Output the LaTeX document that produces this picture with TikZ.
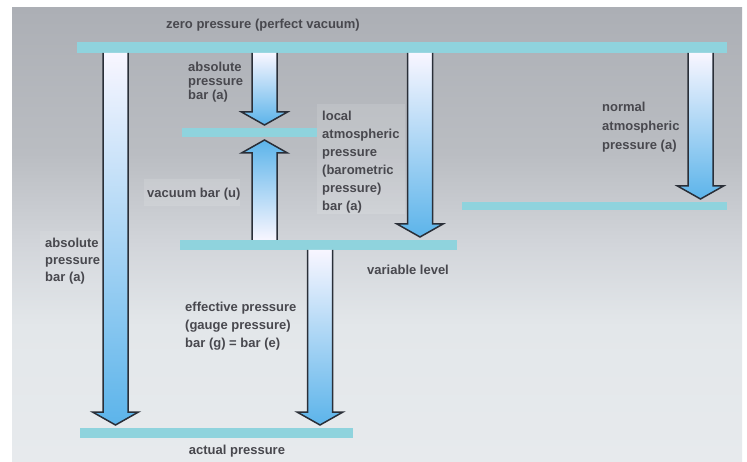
\documentclass[tikz,border=0pt]{standalone}
\usepackage{fontspec}
\setmainfont{Liberation Sans}
\usetikzlibrary{calc}
\definecolor{barc}{RGB}{143,211,221}
\definecolor{txt}{RGB}{72,72,78}
\definecolor{arrdark}{RGB}{42,47,56}
\definecolor{arrtop}{RGB}{248,246,255}
\definecolor{arrbot}{RGB}{92,180,234}
\definecolor{bga}{RGB}{231,234,237}
\definecolor{bgb}{RGB}{227,231,234}
\definecolor{bgc}{RGB}{210,213,218}
\definecolor{bgd}{RGB}{186,189,194}
\definecolor{bge}{RGB}{172,175,181}
\pgfdeclareverticalshading{bgshade}{100bp}{color(0bp)=(bga); color(25bp)=(bga); color(40bp)=(bgb); color(49bp)=(bgc); color(59bp)=(bgd); color(75bp)=(bge); color(100bp)=(bge)}
\tikzset{
  levelbar/.style={fill=barc, draw=none, inner sep=0pt, outer sep=0pt, minimum height=#1},
  levelbar/.default=10pt,
  arrline/.style={draw=arrdark, line width=1.5pt, line join=miter},
  lbl/.style={font=\bfseries\fontsize{13}{#1}\selectfont, text=txt, align=left, inner sep=0pt, anchor=base west},
  lbl/.default=17pt,
  lblbox/.style={fill=white, fill opacity=0.12, draw=none}
}
% down arrow: #1 x, from #2.south to #3.north
\newcommand\pdown[3]{%
  \path[shade, top color=arrtop, bottom color=arrbot]
    let \p1=(#2.south), \p2=(#3.north) in
    ({#1pt-12.5pt},{\y1}) -- ({#1pt-12.5pt},{\y2+16pt}) -- ({#1pt-23pt},{\y2+16pt}) -- ({#1pt},{\y2+3pt}) -- ({#1pt+23pt},{\y2+16pt}) -- ({#1pt+12.5pt},{\y2+16pt}) -- ({#1pt+12.5pt},{\y1}) -- cycle;
  \draw[arrline]
    let \p1=(#2.south), \p2=(#3.north) in
    ({#1pt-12.5pt},{\y1}) -- ({#1pt-12.5pt},{\y2+16pt}) -- ({#1pt-23pt},{\y2+16pt}) -- ({#1pt},{\y2+3pt}) -- ({#1pt+23pt},{\y2+16pt}) -- ({#1pt+12.5pt},{\y2+16pt}) -- ({#1pt+12.5pt},{\y1});
}
% up arrow: #1 x, from #2.north to #3.south
\newcommand\pup[3]{%
  \path[shade, top color=arrbot, bottom color=arrtop]
    let \p1=(#2.north), \p2=(#3.south) in
    ({#1pt-12.5pt},{\y1}) -- ({#1pt-12.5pt},{\y2-16pt}) -- ({#1pt-23pt},{\y2-16pt}) -- ({#1pt},{\y2-3pt}) -- ({#1pt+23pt},{\y2-16pt}) -- ({#1pt+12.5pt},{\y2-16pt}) -- ({#1pt+12.5pt},{\y1}) -- cycle;
  \draw[arrline]
    let \p1=(#2.north), \p2=(#3.south) in
    ({#1pt-12.5pt},{\y1}) -- ({#1pt-12.5pt},{\y2-16pt}) -- ({#1pt-23pt},{\y2-16pt}) -- ({#1pt},{\y2-3pt}) -- ({#1pt+23pt},{\y2-16pt}) -- ({#1pt+12.5pt},{\y2-16pt}) -- ({#1pt+12.5pt},{\y1});
}
\begin{document}
\begin{tikzpicture}[x=1pt,y=-1pt]
\useasboundingbox (0,0) rectangle (747,462);
\fill[white] (0,0) rectangle (747,462);
\shade[shading=bgshade] (12,8) rectangle (742,462);

% faint label backgrounds
\fill[lblbox] (317,104) rectangle (405,214);
\fill[lblbox] (144,179) rectangle (240,206);
\fill[lblbox, fill opacity=0.07] (40,231) rectangle (101,290);

% level bars
\node[levelbar=11pt, minimum width=650pt] (zero) at (402,47.5) {};
\node[levelbar=9pt, minimum width=135pt] (local) at (249.5,132.5) {};
\node[levelbar=10pt, minimum width=277pt] (var) at (318.5,245) {};
\node[levelbar=8pt, minimum width=265pt] (normal) at (594.5,206) {};
\node[levelbar=10pt, minimum width=273pt] (actual) at (216.5,433) {};

% arrows
\pdown{115.5}{zero}{actual}
\pdown{264.5}{zero}{local}
\pup{264.5}{var}{local}
\pdown{420}{zero}{var}
\pdown{700.5}{zero}{normal}
\pdown{320}{var}{actual}

% labels (multi-line nodes: base anchor = last line's baseline)
\node[lbl, anchor=base] (ttitle) at (263,28.5) {zero pressure (perfect vacuum)};
\node[lbl=14pt] (tabs1) at (188,99.5) {absolute\\pressure\\bar (a)};
\node[lbl] (tvac) at (147,197.5) {vacuum bar (u)};
\node[lbl=18pt] (tloc) at (322,210.5) {local\\atmospheric\\pressure\\(barometric\\pressure)\\bar (a)};
\node[lbl=19pt] (tnorm) at (602,149.5) {normal\\atmospheric\\pressure (a)};
\node[lbl] (tabs2) at (45,281.5) {absolute\\pressure\\bar (a)};
\node[lbl] (tvar) at (367,274.5) {variable level};
\node[lbl=18pt] (teff) at (185,347.5) {effective pressure\\(gauge pressure)\\bar (g) = bar (e)};
\node[lbl, anchor=base] (tact) at (237,454.5) {actual pressure};
\end{tikzpicture}
\end{document}
